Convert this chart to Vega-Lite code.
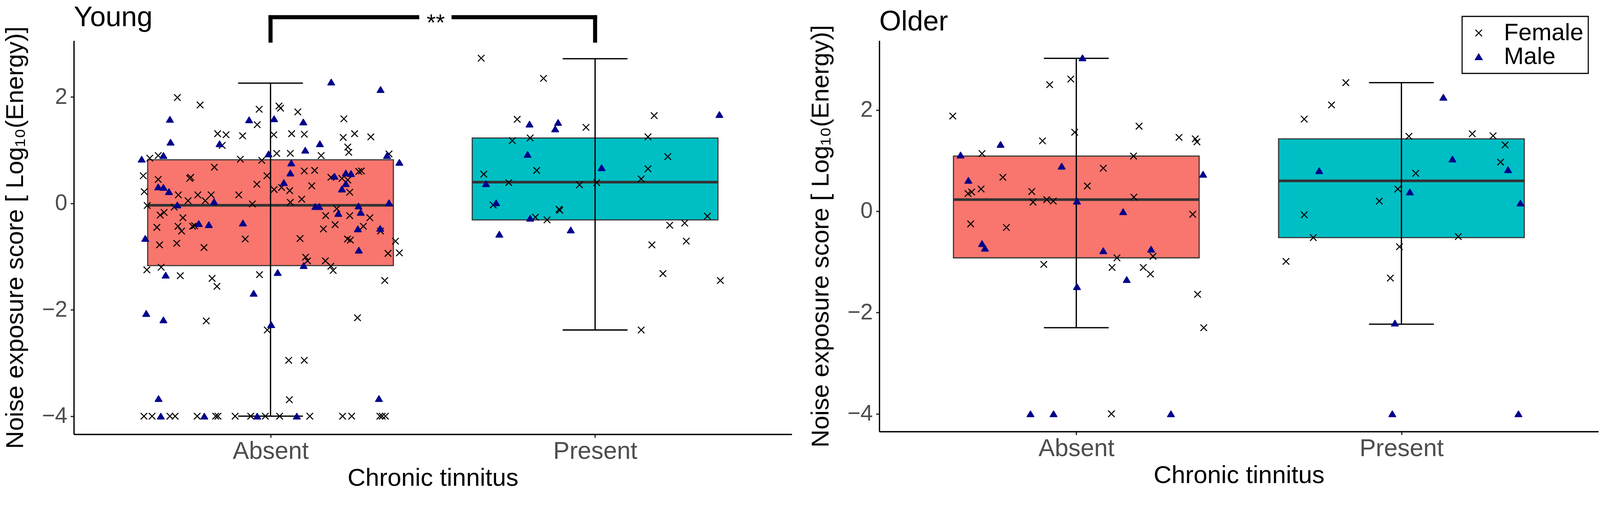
{
  "$schema": "https://vega.github.io/schema/vega-lite/v6.json",
  "background": "white",
  "padding": {"left": 7, "top": 9, "right": 9, "bottom": 3},
  "datasets": {
    "boxes": [
      {"age": "Young", "tinnitus": "Absent", "pos": 1, "q1": -1.17, "median": -0.035, "q3": 0.82, "lower": -4.0, "upper": 2.26},
      {"age": "Young", "tinnitus": "Present", "pos": 2, "q1": -0.31, "median": 0.40, "q3": 1.23, "lower": -2.38, "upper": 2.72},
      {"age": "Older", "tinnitus": "Absent", "pos": 1, "q1": -0.92, "median": 0.23, "q3": 1.09, "lower": -2.30, "upper": 3.02},
      {"age": "Older", "tinnitus": "Present", "pos": 2, "q1": -0.52, "median": 0.60, "q3": 1.43, "lower": -2.23, "upper": 2.54}
    ],
    "bracket": [
      {"x": 1, "x2": 1.452, "y": 3.5, "y2": 3.5},
      {"x": 1.564, "x2": 2, "y": 3.5, "y2": 3.5},
      {"x": 1, "x2": 1, "y": 3.06, "y2": 3.5},
      {"x": 2, "x2": 2, "y": 3.06, "y2": 3.5}
    ],
    "stars": [
      {"x": 1.509, "y": 3.5, "label": "**"}
    ],
    "points": [
      {"age": "Young", "tinnitus": "Absent", "sex": "Female", "jx": 0.713, "score": 1.99},
      {"age": "Young", "tinnitus": "Absent", "sex": "Female", "jx": 0.783, "score": 1.85},
      {"age": "Young", "tinnitus": "Absent", "sex": "Female", "jx": 0.965, "score": 1.77},
      {"age": "Young", "tinnitus": "Absent", "sex": "Female", "jx": 0.959, "score": 1.48},
      {"age": "Young", "tinnitus": "Absent", "sex": "Female", "jx": 0.837, "score": 1.31},
      {"age": "Young", "tinnitus": "Absent", "sex": "Female", "jx": 0.863, "score": 1.29},
      {"age": "Young", "tinnitus": "Absent", "sex": "Female", "jx": 0.914, "score": 1.27},
      {"age": "Young", "tinnitus": "Absent", "sex": "Female", "jx": 0.851, "score": 1.09},
      {"age": "Young", "tinnitus": "Absent", "sex": "Female", "jx": 0.628, "score": 0.85},
      {"age": "Young", "tinnitus": "Absent", "sex": "Female", "jx": 0.654, "score": 0.90},
      {"age": "Young", "tinnitus": "Absent", "sex": "Female", "jx": 0.907, "score": 0.83},
      {"age": "Young", "tinnitus": "Absent", "sex": "Female", "jx": 0.973, "score": 0.81},
      {"age": "Young", "tinnitus": "Absent", "sex": "Female", "jx": 0.827, "score": 0.68},
      {"age": "Young", "tinnitus": "Absent", "sex": "Female", "jx": 0.608, "score": 0.52},
      {"age": "Young", "tinnitus": "Absent", "sex": "Female", "jx": 0.654, "score": 0.45},
      {"age": "Young", "tinnitus": "Absent", "sex": "Female", "jx": 0.751, "score": 0.47},
      {"age": "Young", "tinnitus": "Absent", "sex": "Female", "jx": 0.754, "score": 0.49},
      {"age": "Young", "tinnitus": "Absent", "sex": "Female", "jx": 0.989, "score": 0.52},
      {"age": "Young", "tinnitus": "Absent", "sex": "Female", "jx": 0.958, "score": 0.36},
      {"age": "Young", "tinnitus": "Absent", "sex": "Female", "jx": 0.611, "score": 0.22},
      {"age": "Young", "tinnitus": "Absent", "sex": "Female", "jx": 0.716, "score": 0.16},
      {"age": "Young", "tinnitus": "Absent", "sex": "Female", "jx": 0.776, "score": 0.16},
      {"age": "Young", "tinnitus": "Absent", "sex": "Female", "jx": 0.817, "score": 0.16},
      {"age": "Young", "tinnitus": "Absent", "sex": "Female", "jx": 0.902, "score": 0.16},
      {"age": "Young", "tinnitus": "Absent", "sex": "Female", "jx": 0.746, "score": 0.05},
      {"age": "Young", "tinnitus": "Absent", "sex": "Female", "jx": 0.799, "score": 0.05},
      {"age": "Young", "tinnitus": "Absent", "sex": "Female", "jx": 0.620, "score": -0.04},
      {"age": "Young", "tinnitus": "Absent", "sex": "Female", "jx": 0.944, "score": -0.01},
      {"age": "Young", "tinnitus": "Absent", "sex": "Female", "jx": 0.703, "score": -0.07},
      {"age": "Young", "tinnitus": "Absent", "sex": "Female", "jx": 0.660, "score": -0.22},
      {"age": "Young", "tinnitus": "Absent", "sex": "Female", "jx": 0.672, "score": -0.17},
      {"age": "Young", "tinnitus": "Absent", "sex": "Female", "jx": 0.730, "score": -0.27},
      {"age": "Young", "tinnitus": "Absent", "sex": "Female", "jx": 0.650, "score": -0.45},
      {"age": "Young", "tinnitus": "Absent", "sex": "Female", "jx": 0.715, "score": -0.43},
      {"age": "Young", "tinnitus": "Absent", "sex": "Female", "jx": 0.726, "score": -0.52},
      {"age": "Young", "tinnitus": "Absent", "sex": "Female", "jx": 0.760, "score": -0.43},
      {"age": "Young", "tinnitus": "Absent", "sex": "Female", "jx": 0.766, "score": -0.42},
      {"age": "Young", "tinnitus": "Absent", "sex": "Female", "jx": 0.922, "score": -0.67},
      {"age": "Young", "tinnitus": "Absent", "sex": "Female", "jx": 0.658, "score": -0.78},
      {"age": "Young", "tinnitus": "Absent", "sex": "Female", "jx": 0.711, "score": -0.75},
      {"age": "Young", "tinnitus": "Absent", "sex": "Female", "jx": 0.795, "score": -0.83},
      {"age": "Young", "tinnitus": "Absent", "sex": "Female", "jx": 0.619, "score": -1.25},
      {"age": "Young", "tinnitus": "Absent", "sex": "Female", "jx": 0.663, "score": -1.20},
      {"age": "Young", "tinnitus": "Absent", "sex": "Female", "jx": 0.722, "score": -1.36},
      {"age": "Young", "tinnitus": "Absent", "sex": "Female", "jx": 0.966, "score": -1.34},
      {"age": "Young", "tinnitus": "Absent", "sex": "Female", "jx": 0.820, "score": -1.41},
      {"age": "Young", "tinnitus": "Absent", "sex": "Female", "jx": 0.835, "score": -1.56},
      {"age": "Young", "tinnitus": "Absent", "sex": "Female", "jx": 1.026, "score": 1.83},
      {"age": "Young", "tinnitus": "Absent", "sex": "Female", "jx": 1.031, "score": 1.79},
      {"age": "Young", "tinnitus": "Absent", "sex": "Female", "jx": 1.084, "score": 1.72},
      {"age": "Young", "tinnitus": "Absent", "sex": "Female", "jx": 1.226, "score": 1.59},
      {"age": "Young", "tinnitus": "Absent", "sex": "Female", "jx": 1.010, "score": 1.29},
      {"age": "Young", "tinnitus": "Absent", "sex": "Female", "jx": 1.065, "score": 1.31},
      {"age": "Young", "tinnitus": "Absent", "sex": "Female", "jx": 1.104, "score": 1.30},
      {"age": "Young", "tinnitus": "Absent", "sex": "Female", "jx": 1.224, "score": 1.24},
      {"age": "Young", "tinnitus": "Absent", "sex": "Female", "jx": 1.259, "score": 1.31},
      {"age": "Young", "tinnitus": "Absent", "sex": "Female", "jx": 1.309, "score": 1.25},
      {"age": "Young", "tinnitus": "Absent", "sex": "Female", "jx": 1.238, "score": 1.06},
      {"age": "Young", "tinnitus": "Absent", "sex": "Female", "jx": 1.241, "score": 0.96},
      {"age": "Young", "tinnitus": "Absent", "sex": "Female", "jx": 1.019, "score": 0.94},
      {"age": "Young", "tinnitus": "Absent", "sex": "Female", "jx": 1.061, "score": 0.94},
      {"age": "Young", "tinnitus": "Absent", "sex": "Female", "jx": 1.156, "score": 0.90},
      {"age": "Young", "tinnitus": "Absent", "sex": "Female", "jx": 1.365, "score": 0.93},
      {"age": "Young", "tinnitus": "Absent", "sex": "Female", "jx": 1.104, "score": 0.61},
      {"age": "Young", "tinnitus": "Absent", "sex": "Female", "jx": 1.136, "score": 0.62},
      {"age": "Young", "tinnitus": "Absent", "sex": "Female", "jx": 1.272, "score": 0.60},
      {"age": "Young", "tinnitus": "Absent", "sex": "Female", "jx": 1.280, "score": 0.61},
      {"age": "Young", "tinnitus": "Absent", "sex": "Female", "jx": 1.186, "score": 0.49},
      {"age": "Young", "tinnitus": "Absent", "sex": "Female", "jx": 1.220, "score": 0.47},
      {"age": "Young", "tinnitus": "Absent", "sex": "Female", "jx": 1.238, "score": 0.44},
      {"age": "Young", "tinnitus": "Absent", "sex": "Female", "jx": 1.127, "score": 0.33},
      {"age": "Young", "tinnitus": "Absent", "sex": "Female", "jx": 1.011, "score": 0.26},
      {"age": "Young", "tinnitus": "Absent", "sex": "Female", "jx": 1.034, "score": 0.30},
      {"age": "Young", "tinnitus": "Absent", "sex": "Female", "jx": 1.059, "score": 0.24},
      {"age": "Young", "tinnitus": "Absent", "sex": "Female", "jx": 1.244, "score": 0.21},
      {"age": "Young", "tinnitus": "Absent", "sex": "Female", "jx": 1.096, "score": 0.08},
      {"age": "Young", "tinnitus": "Absent", "sex": "Female", "jx": 1.061, "score": 0.02},
      {"age": "Young", "tinnitus": "Absent", "sex": "Female", "jx": 1.204, "score": -0.10},
      {"age": "Young", "tinnitus": "Absent", "sex": "Female", "jx": 1.170, "score": -0.23},
      {"age": "Young", "tinnitus": "Absent", "sex": "Female", "jx": 1.244, "score": -0.23},
      {"age": "Young", "tinnitus": "Absent", "sex": "Female", "jx": 1.306, "score": -0.27},
      {"age": "Young", "tinnitus": "Absent", "sex": "Female", "jx": 1.199, "score": -0.40},
      {"age": "Young", "tinnitus": "Absent", "sex": "Female", "jx": 1.163, "score": -0.48},
      {"age": "Young", "tinnitus": "Absent", "sex": "Female", "jx": 1.286, "score": -0.43},
      {"age": "Young", "tinnitus": "Absent", "sex": "Female", "jx": 1.339, "score": -0.52},
      {"age": "Young", "tinnitus": "Absent", "sex": "Female", "jx": 1.091, "score": -0.66},
      {"age": "Young", "tinnitus": "Absent", "sex": "Female", "jx": 1.237, "score": -0.67},
      {"age": "Young", "tinnitus": "Absent", "sex": "Female", "jx": 1.246, "score": -0.69},
      {"age": "Young", "tinnitus": "Absent", "sex": "Female", "jx": 1.385, "score": -0.71},
      {"age": "Young", "tinnitus": "Absent", "sex": "Female", "jx": 1.397, "score": -0.93},
      {"age": "Young", "tinnitus": "Absent", "sex": "Female", "jx": 1.362, "score": -0.94},
      {"age": "Young", "tinnitus": "Absent", "sex": "Female", "jx": 1.108, "score": -1.01},
      {"age": "Young", "tinnitus": "Absent", "sex": "Female", "jx": 1.114, "score": -1.08},
      {"age": "Young", "tinnitus": "Absent", "sex": "Female", "jx": 1.169, "score": -1.08},
      {"age": "Young", "tinnitus": "Absent", "sex": "Female", "jx": 1.186, "score": -1.18},
      {"age": "Young", "tinnitus": "Absent", "sex": "Female", "jx": 1.193, "score": -1.26},
      {"age": "Young", "tinnitus": "Absent", "sex": "Female", "jx": 1.352, "score": -1.45},
      {"age": "Young", "tinnitus": "Absent", "sex": "Female", "jx": 0.802, "score": -2.21},
      {"age": "Young", "tinnitus": "Absent", "sex": "Female", "jx": 0.990, "score": -2.38},
      {"age": "Young", "tinnitus": "Absent", "sex": "Female", "jx": 1.268, "score": -2.15},
      {"age": "Young", "tinnitus": "Absent", "sex": "Female", "jx": 1.056, "score": -2.95},
      {"age": "Young", "tinnitus": "Absent", "sex": "Female", "jx": 1.104, "score": -2.95},
      {"age": "Young", "tinnitus": "Absent", "sex": "Female", "jx": 1.058, "score": -3.69},
      {"age": "Young", "tinnitus": "Absent", "sex": "Female", "jx": 0.610, "score": -4.0},
      {"age": "Young", "tinnitus": "Absent", "sex": "Female", "jx": 0.635, "score": -4.0},
      {"age": "Young", "tinnitus": "Absent", "sex": "Female", "jx": 0.690, "score": -4.0},
      {"age": "Young", "tinnitus": "Absent", "sex": "Female", "jx": 0.706, "score": -4.0},
      {"age": "Young", "tinnitus": "Absent", "sex": "Female", "jx": 0.774, "score": -4.0},
      {"age": "Young", "tinnitus": "Absent", "sex": "Female", "jx": 0.831, "score": -4.0},
      {"age": "Young", "tinnitus": "Absent", "sex": "Female", "jx": 0.838, "score": -4.0},
      {"age": "Young", "tinnitus": "Absent", "sex": "Female", "jx": 0.891, "score": -4.0},
      {"age": "Young", "tinnitus": "Absent", "sex": "Female", "jx": 0.939, "score": -4.0},
      {"age": "Young", "tinnitus": "Absent", "sex": "Female", "jx": 0.984, "score": -4.0},
      {"age": "Young", "tinnitus": "Absent", "sex": "Female", "jx": 1.028, "score": -4.0},
      {"age": "Young", "tinnitus": "Absent", "sex": "Female", "jx": 1.121, "score": -4.0},
      {"age": "Young", "tinnitus": "Absent", "sex": "Female", "jx": 1.222, "score": -4.0},
      {"age": "Young", "tinnitus": "Absent", "sex": "Female", "jx": 1.250, "score": -4.0},
      {"age": "Young", "tinnitus": "Absent", "sex": "Female", "jx": 1.337, "score": -4.0},
      {"age": "Young", "tinnitus": "Absent", "sex": "Female", "jx": 1.344, "score": -4.0},
      {"age": "Young", "tinnitus": "Absent", "sex": "Female", "jx": 1.354, "score": -4.0},
      {"age": "Young", "tinnitus": "Absent", "sex": "Male", "jx": 0.690, "score": 1.58},
      {"age": "Young", "tinnitus": "Absent", "sex": "Male", "jx": 0.692, "score": 1.15},
      {"age": "Young", "tinnitus": "Absent", "sex": "Male", "jx": 0.603, "score": 0.83},
      {"age": "Young", "tinnitus": "Absent", "sex": "Male", "jx": 0.670, "score": 0.90},
      {"age": "Young", "tinnitus": "Absent", "sex": "Male", "jx": 0.934, "score": 1.57},
      {"age": "Young", "tinnitus": "Absent", "sex": "Male", "jx": 0.843, "score": 1.12},
      {"age": "Young", "tinnitus": "Absent", "sex": "Male", "jx": 0.654, "score": 0.31},
      {"age": "Young", "tinnitus": "Absent", "sex": "Male", "jx": 0.670, "score": 0.30},
      {"age": "Young", "tinnitus": "Absent", "sex": "Male", "jx": 0.687, "score": 0.22},
      {"age": "Young", "tinnitus": "Absent", "sex": "Male", "jx": 0.713, "score": -0.03},
      {"age": "Young", "tinnitus": "Absent", "sex": "Male", "jx": 0.826, "score": 0.03},
      {"age": "Young", "tinnitus": "Absent", "sex": "Male", "jx": 0.779, "score": -0.38},
      {"age": "Young", "tinnitus": "Absent", "sex": "Male", "jx": 0.810, "score": -0.40},
      {"age": "Young", "tinnitus": "Absent", "sex": "Male", "jx": 0.915, "score": -0.37},
      {"age": "Young", "tinnitus": "Absent", "sex": "Male", "jx": 0.614, "score": -0.66},
      {"age": "Young", "tinnitus": "Absent", "sex": "Male", "jx": 0.677, "score": -1.35},
      {"age": "Young", "tinnitus": "Absent", "sex": "Male", "jx": 0.948, "score": -1.69},
      {"age": "Young", "tinnitus": "Absent", "sex": "Male", "jx": 0.994, "score": 0.93},
      {"age": "Young", "tinnitus": "Absent", "sex": "Male", "jx": 1.339, "score": 2.14},
      {"age": "Young", "tinnitus": "Absent", "sex": "Male", "jx": 1.187, "score": 2.28},
      {"age": "Young", "tinnitus": "Absent", "sex": "Male", "jx": 1.011, "score": 1.59},
      {"age": "Young", "tinnitus": "Absent", "sex": "Male", "jx": 1.101, "score": 1.53},
      {"age": "Young", "tinnitus": "Absent", "sex": "Male", "jx": 1.152, "score": 1.12},
      {"age": "Young", "tinnitus": "Absent", "sex": "Male", "jx": 1.107, "score": 1.00},
      {"age": "Young", "tinnitus": "Absent", "sex": "Male", "jx": 1.359, "score": 0.90},
      {"age": "Young", "tinnitus": "Absent", "sex": "Male", "jx": 1.397, "score": 0.77},
      {"age": "Young", "tinnitus": "Absent", "sex": "Male", "jx": 1.064, "score": 0.76},
      {"age": "Young", "tinnitus": "Absent", "sex": "Male", "jx": 1.061, "score": 0.57},
      {"age": "Young", "tinnitus": "Absent", "sex": "Male", "jx": 1.197, "score": 0.51},
      {"age": "Young", "tinnitus": "Absent", "sex": "Male", "jx": 1.232, "score": 0.57},
      {"age": "Young", "tinnitus": "Absent", "sex": "Male", "jx": 1.248, "score": 0.56},
      {"age": "Young", "tinnitus": "Absent", "sex": "Male", "jx": 1.232, "score": 0.37},
      {"age": "Young", "tinnitus": "Absent", "sex": "Male", "jx": 1.220, "score": 0.27},
      {"age": "Young", "tinnitus": "Absent", "sex": "Male", "jx": 1.041, "score": 0.39},
      {"age": "Young", "tinnitus": "Absent", "sex": "Male", "jx": 1.138, "score": -0.06},
      {"age": "Young", "tinnitus": "Absent", "sex": "Male", "jx": 1.150, "score": -0.06},
      {"age": "Young", "tinnitus": "Absent", "sex": "Male", "jx": 1.271, "score": -0.05},
      {"age": "Young", "tinnitus": "Absent", "sex": "Male", "jx": 1.365, "score": 0.01},
      {"age": "Young", "tinnitus": "Absent", "sex": "Male", "jx": 1.278, "score": -0.17},
      {"age": "Young", "tinnitus": "Absent", "sex": "Male", "jx": 1.209, "score": -0.19},
      {"age": "Young", "tinnitus": "Absent", "sex": "Male", "jx": 1.269, "score": -0.48},
      {"age": "Young", "tinnitus": "Absent", "sex": "Male", "jx": 1.338, "score": -0.47},
      {"age": "Young", "tinnitus": "Absent", "sex": "Male", "jx": 1.272, "score": -0.88},
      {"age": "Young", "tinnitus": "Absent", "sex": "Male", "jx": 1.102, "score": -1.17},
      {"age": "Young", "tinnitus": "Absent", "sex": "Male", "jx": 1.022, "score": -1.30},
      {"age": "Young", "tinnitus": "Absent", "sex": "Male", "jx": 0.617, "score": -2.07},
      {"age": "Young", "tinnitus": "Absent", "sex": "Male", "jx": 0.670, "score": -2.19},
      {"age": "Young", "tinnitus": "Absent", "sex": "Male", "jx": 1.002, "score": -2.28},
      {"age": "Young", "tinnitus": "Absent", "sex": "Male", "jx": 0.655, "score": -3.67},
      {"age": "Young", "tinnitus": "Absent", "sex": "Male", "jx": 1.334, "score": -3.67},
      {"age": "Young", "tinnitus": "Absent", "sex": "Male", "jx": 0.662, "score": -4.0},
      {"age": "Young", "tinnitus": "Absent", "sex": "Male", "jx": 0.796, "score": -4.0},
      {"age": "Young", "tinnitus": "Absent", "sex": "Male", "jx": 0.959, "score": -4.0},
      {"age": "Young", "tinnitus": "Absent", "sex": "Male", "jx": 1.081, "score": -4.0},
      {"age": "Young", "tinnitus": "Present", "sex": "Female", "jx": 1.649, "score": 2.73},
      {"age": "Young", "tinnitus": "Present", "sex": "Female", "jx": 1.841, "score": 2.35},
      {"age": "Young", "tinnitus": "Present", "sex": "Female", "jx": 1.760, "score": 1.58},
      {"age": "Young", "tinnitus": "Present", "sex": "Female", "jx": 1.972, "score": 1.43},
      {"age": "Young", "tinnitus": "Present", "sex": "Female", "jx": 2.182, "score": 1.65},
      {"age": "Young", "tinnitus": "Present", "sex": "Female", "jx": 2.163, "score": 1.25},
      {"age": "Young", "tinnitus": "Present", "sex": "Female", "jx": 1.745, "score": 1.18},
      {"age": "Young", "tinnitus": "Present", "sex": "Female", "jx": 1.800, "score": 1.23},
      {"age": "Young", "tinnitus": "Present", "sex": "Female", "jx": 2.224, "score": 0.88},
      {"age": "Young", "tinnitus": "Present", "sex": "Female", "jx": 1.820, "score": 0.62},
      {"age": "Young", "tinnitus": "Present", "sex": "Female", "jx": 2.163, "score": 0.65},
      {"age": "Young", "tinnitus": "Present", "sex": "Female", "jx": 1.657, "score": 0.55},
      {"age": "Young", "tinnitus": "Present", "sex": "Female", "jx": 2.142, "score": 0.46},
      {"age": "Young", "tinnitus": "Present", "sex": "Female", "jx": 1.734, "score": 0.39},
      {"age": "Young", "tinnitus": "Present", "sex": "Female", "jx": 1.952, "score": 0.35},
      {"age": "Young", "tinnitus": "Present", "sex": "Female", "jx": 2.005, "score": 0.39},
      {"age": "Young", "tinnitus": "Present", "sex": "Female", "jx": 1.686, "score": -0.03},
      {"age": "Young", "tinnitus": "Present", "sex": "Female", "jx": 1.889, "score": -0.11},
      {"age": "Young", "tinnitus": "Present", "sex": "Female", "jx": 1.891, "score": -0.13},
      {"age": "Young", "tinnitus": "Present", "sex": "Female", "jx": 1.816, "score": -0.26},
      {"age": "Young", "tinnitus": "Present", "sex": "Female", "jx": 1.852, "score": -0.31},
      {"age": "Young", "tinnitus": "Present", "sex": "Female", "jx": 2.346, "score": -0.24},
      {"age": "Young", "tinnitus": "Present", "sex": "Female", "jx": 2.230, "score": -0.41},
      {"age": "Young", "tinnitus": "Present", "sex": "Female", "jx": 2.276, "score": -0.37},
      {"age": "Young", "tinnitus": "Present", "sex": "Female", "jx": 2.175, "score": -0.78},
      {"age": "Young", "tinnitus": "Present", "sex": "Female", "jx": 2.281, "score": -0.71},
      {"age": "Young", "tinnitus": "Present", "sex": "Female", "jx": 2.209, "score": -1.32},
      {"age": "Young", "tinnitus": "Present", "sex": "Female", "jx": 2.386, "score": -1.45},
      {"age": "Young", "tinnitus": "Present", "sex": "Female", "jx": 2.142, "score": -2.38},
      {"age": "Young", "tinnitus": "Present", "sex": "Male", "jx": 2.383, "score": 1.67},
      {"age": "Young", "tinnitus": "Present", "sex": "Male", "jx": 1.798, "score": 1.49},
      {"age": "Young", "tinnitus": "Present", "sex": "Male", "jx": 1.886, "score": 1.52},
      {"age": "Young", "tinnitus": "Present", "sex": "Male", "jx": 1.877, "score": 1.40},
      {"age": "Young", "tinnitus": "Present", "sex": "Male", "jx": 1.792, "score": 0.92},
      {"age": "Young", "tinnitus": "Present", "sex": "Male", "jx": 2.020, "score": 0.67},
      {"age": "Young", "tinnitus": "Present", "sex": "Male", "jx": 1.664, "score": 0.37},
      {"age": "Young", "tinnitus": "Present", "sex": "Male", "jx": 1.695, "score": 0.01},
      {"age": "Young", "tinnitus": "Present", "sex": "Male", "jx": 1.800, "score": -0.28},
      {"age": "Young", "tinnitus": "Present", "sex": "Male", "jx": 1.705, "score": -0.58},
      {"age": "Young", "tinnitus": "Present", "sex": "Male", "jx": 1.925, "score": -0.50},
      {"age": "Older", "tinnitus": "Absent", "sex": "Female", "jx": 0.620, "score": 1.88},
      {"age": "Older", "tinnitus": "Absent", "sex": "Female", "jx": 0.918, "score": 2.50},
      {"age": "Older", "tinnitus": "Absent", "sex": "Female", "jx": 0.983, "score": 2.61},
      {"age": "Older", "tinnitus": "Absent", "sex": "Female", "jx": 0.995, "score": 1.56},
      {"age": "Older", "tinnitus": "Absent", "sex": "Female", "jx": 0.896, "score": 1.39},
      {"age": "Older", "tinnitus": "Absent", "sex": "Female", "jx": 0.710, "score": 1.14},
      {"age": "Older", "tinnitus": "Absent", "sex": "Female", "jx": 1.193, "score": 1.68},
      {"age": "Older", "tinnitus": "Absent", "sex": "Female", "jx": 1.316, "score": 1.46},
      {"age": "Older", "tinnitus": "Absent", "sex": "Female", "jx": 1.366, "score": 1.43},
      {"age": "Older", "tinnitus": "Absent", "sex": "Female", "jx": 1.371, "score": 1.37},
      {"age": "Older", "tinnitus": "Absent", "sex": "Female", "jx": 1.176, "score": 1.09},
      {"age": "Older", "tinnitus": "Absent", "sex": "Female", "jx": 0.774, "score": 0.67},
      {"age": "Older", "tinnitus": "Absent", "sex": "Female", "jx": 1.083, "score": 0.85},
      {"age": "Older", "tinnitus": "Absent", "sex": "Female", "jx": 0.667, "score": 0.35},
      {"age": "Older", "tinnitus": "Absent", "sex": "Female", "jx": 0.678, "score": 0.38},
      {"age": "Older", "tinnitus": "Absent", "sex": "Female", "jx": 0.707, "score": 0.44},
      {"age": "Older", "tinnitus": "Absent", "sex": "Female", "jx": 0.863, "score": 0.39},
      {"age": "Older", "tinnitus": "Absent", "sex": "Female", "jx": 0.867, "score": 0.18},
      {"age": "Older", "tinnitus": "Absent", "sex": "Female", "jx": 0.909, "score": 0.23},
      {"age": "Older", "tinnitus": "Absent", "sex": "Female", "jx": 0.929, "score": 0.20},
      {"age": "Older", "tinnitus": "Absent", "sex": "Female", "jx": 1.034, "score": 0.50},
      {"age": "Older", "tinnitus": "Absent", "sex": "Female", "jx": 1.177, "score": 0.28},
      {"age": "Older", "tinnitus": "Absent", "sex": "Female", "jx": 1.358, "score": -0.06},
      {"age": "Older", "tinnitus": "Absent", "sex": "Female", "jx": 0.675, "score": -0.25},
      {"age": "Older", "tinnitus": "Absent", "sex": "Female", "jx": 0.785, "score": -0.32},
      {"age": "Older", "tinnitus": "Absent", "sex": "Female", "jx": 0.900, "score": -1.05},
      {"age": "Older", "tinnitus": "Absent", "sex": "Female", "jx": 1.125, "score": -0.92},
      {"age": "Older", "tinnitus": "Absent", "sex": "Female", "jx": 1.110, "score": -1.11},
      {"age": "Older", "tinnitus": "Absent", "sex": "Female", "jx": 1.206, "score": -1.11},
      {"age": "Older", "tinnitus": "Absent", "sex": "Female", "jx": 1.228, "score": -1.24},
      {"age": "Older", "tinnitus": "Absent", "sex": "Female", "jx": 1.236, "score": -0.89},
      {"age": "Older", "tinnitus": "Absent", "sex": "Female", "jx": 1.373, "score": -1.64},
      {"age": "Older", "tinnitus": "Absent", "sex": "Female", "jx": 1.392, "score": -2.30},
      {"age": "Older", "tinnitus": "Absent", "sex": "Female", "jx": 1.108, "score": -4.0},
      {"age": "Older", "tinnitus": "Absent", "sex": "Male", "jx": 1.019, "score": 3.03},
      {"age": "Older", "tinnitus": "Absent", "sex": "Male", "jx": 0.767, "score": 1.32},
      {"age": "Older", "tinnitus": "Absent", "sex": "Male", "jx": 0.644, "score": 1.11},
      {"age": "Older", "tinnitus": "Absent", "sex": "Male", "jx": 0.668, "score": 0.61},
      {"age": "Older", "tinnitus": "Absent", "sex": "Male", "jx": 0.955, "score": 0.89},
      {"age": "Older", "tinnitus": "Absent", "sex": "Male", "jx": 1.390, "score": 0.73},
      {"age": "Older", "tinnitus": "Absent", "sex": "Male", "jx": 1.002, "score": 0.20},
      {"age": "Older", "tinnitus": "Absent", "sex": "Male", "jx": 1.144, "score": -0.01},
      {"age": "Older", "tinnitus": "Absent", "sex": "Male", "jx": 0.710, "score": -0.64},
      {"age": "Older", "tinnitus": "Absent", "sex": "Male", "jx": 0.719, "score": -0.73},
      {"age": "Older", "tinnitus": "Absent", "sex": "Male", "jx": 1.083, "score": -0.78},
      {"age": "Older", "tinnitus": "Absent", "sex": "Male", "jx": 1.230, "score": -0.75},
      {"age": "Older", "tinnitus": "Absent", "sex": "Male", "jx": 1.155, "score": -1.35},
      {"age": "Older", "tinnitus": "Absent", "sex": "Male", "jx": 1.002, "score": -1.49},
      {"age": "Older", "tinnitus": "Absent", "sex": "Male", "jx": 0.859, "score": -4.0},
      {"age": "Older", "tinnitus": "Absent", "sex": "Male", "jx": 0.930, "score": -4.0},
      {"age": "Older", "tinnitus": "Absent", "sex": "Male", "jx": 1.291, "score": -4.0},
      {"age": "Older", "tinnitus": "Present", "sex": "Female", "jx": 1.829, "score": 2.54},
      {"age": "Older", "tinnitus": "Present", "sex": "Female", "jx": 1.785, "score": 2.10},
      {"age": "Older", "tinnitus": "Present", "sex": "Female", "jx": 1.701, "score": 1.82},
      {"age": "Older", "tinnitus": "Present", "sex": "Female", "jx": 2.023, "score": 1.48},
      {"age": "Older", "tinnitus": "Present", "sex": "Female", "jx": 2.218, "score": 1.53},
      {"age": "Older", "tinnitus": "Present", "sex": "Female", "jx": 2.282, "score": 1.49},
      {"age": "Older", "tinnitus": "Present", "sex": "Female", "jx": 2.319, "score": 1.31},
      {"age": "Older", "tinnitus": "Present", "sex": "Female", "jx": 2.305, "score": 0.97},
      {"age": "Older", "tinnitus": "Present", "sex": "Female", "jx": 2.044, "score": 0.75},
      {"age": "Older", "tinnitus": "Present", "sex": "Female", "jx": 1.989, "score": 0.44},
      {"age": "Older", "tinnitus": "Present", "sex": "Female", "jx": 1.932, "score": 0.20},
      {"age": "Older", "tinnitus": "Present", "sex": "Female", "jx": 1.701, "score": -0.07},
      {"age": "Older", "tinnitus": "Present", "sex": "Female", "jx": 1.729, "score": -0.52},
      {"age": "Older", "tinnitus": "Present", "sex": "Female", "jx": 2.175, "score": -0.50},
      {"age": "Older", "tinnitus": "Present", "sex": "Female", "jx": 1.994, "score": -0.70},
      {"age": "Older", "tinnitus": "Present", "sex": "Female", "jx": 1.645, "score": -0.99},
      {"age": "Older", "tinnitus": "Present", "sex": "Female", "jx": 1.966, "score": -1.32},
      {"age": "Older", "tinnitus": "Present", "sex": "Male", "jx": 2.129, "score": 2.25},
      {"age": "Older", "tinnitus": "Present", "sex": "Male", "jx": 2.157, "score": 1.03},
      {"age": "Older", "tinnitus": "Present", "sex": "Male", "jx": 1.747, "score": 0.80},
      {"age": "Older", "tinnitus": "Present", "sex": "Male", "jx": 2.328, "score": 0.82},
      {"age": "Older", "tinnitus": "Present", "sex": "Male", "jx": 2.026, "score": 0.38},
      {"age": "Older", "tinnitus": "Present", "sex": "Male", "jx": 2.366, "score": 0.16},
      {"age": "Older", "tinnitus": "Present", "sex": "Male", "jx": 1.980, "score": -2.21},
      {"age": "Older", "tinnitus": "Present", "sex": "Male", "jx": 1.972, "score": -4.0},
      {"age": "Older", "tinnitus": "Present", "sex": "Male", "jx": 2.360, "score": -4.0}
    ]
  },
  "hconcat": [
    {
      "title": {"text": "Young", "dy": 56},
      "width": 1838,
      "height": 1008,
      "layer": [
        {
          "data": {"name": "boxes"},
          "transform": [{"filter": "datum.age == 'Young'"}],
          "mark": {"type": "bar", "width": 629, "stroke": "#333333", "strokeWidth": 2.8},
          "encoding": {
            "x": {"field": "pos", "type": "quantitative", "scale": {"domain": [0.4, 2.6], "nice": false, "zero": false},
              "axis": {"values": [1, 2], "labelExpr": "datum.value == 1 ? 'Absent' : 'Present'", "title": "Chronic tinnitus"}},
            "y": {"field": "q1", "type": "quantitative", "scale": {"domain": [-4.34, 3.06], "nice": false, "zero": false},
              "axis": {"values": [-4, -2, 0, 2], "format": "d", "title": "Noise exposure score [ Log₁₀(Energy)]"}},
            "y2": {"field": "q3"},
            "fill": {"field": "tinnitus", "type": "nominal", "scale": {"domain": ["Absent", "Present"], "range": ["#F8766D", "#00BFC4"]}, "legend": null}
          }
        },
        {
          "data": {"name": "boxes"},
          "transform": [{"filter": "datum.age == 'Young'"}],
          "mark": {"type": "tick", "orient": "horizontal", "size": 629, "thickness": 6.6, "color": "#333333", "opacity": 1},
          "encoding": {
            "x": {"field": "pos", "type": "quantitative"},
            "y": {"field": "median", "type": "quantitative"}
          }
        },
        {
          "data": {"name": "boxes"},
          "transform": [{"filter": "datum.age == 'Young'"}],
          "mark": {"type": "rule", "color": "black", "strokeWidth": 3.3},
          "encoding": {
            "x": {"field": "pos", "type": "quantitative"},
            "y": {"field": "lower", "type": "quantitative"},
            "y2": {"field": "upper"}
          }
        },
        {
          "data": {"name": "boxes"},
          "transform": [{"filter": "datum.age == 'Young'"}],
          "mark": {"type": "tick", "orient": "horizontal", "size": 166, "thickness": 3.3, "color": "black", "opacity": 1},
          "encoding": {
            "x": {"field": "pos", "type": "quantitative"},
            "y": {"field": "lower", "type": "quantitative"}
          }
        },
        {
          "data": {"name": "boxes"},
          "transform": [{"filter": "datum.age == 'Young'"}],
          "mark": {"type": "tick", "orient": "horizontal", "size": 166, "thickness": 3.3, "color": "black", "opacity": 1},
          "encoding": {
            "x": {"field": "pos", "type": "quantitative"},
            "y": {"field": "upper", "type": "quantitative"}
          }
        },
        {
          "data": {"name": "points"},
          "transform": [{"filter": "datum.age == 'Young'"}],
          "mark": {"type": "point", "filled": true, "size": 435, "strokeWidth": 2.6, "strokeJoin": "round", "opacity": 1},
          "encoding": {
            "x": {"field": "jx", "type": "quantitative"},
            "y": {"field": "score", "type": "quantitative"},
            "shape": {"field": "sex", "type": "nominal", "scale": {"domain": ["Female", "Male"], "range": ["M-0.8,-0.8L0.8,0.8M-0.8,0.8L0.8,-0.8", "M0,-0.7L0.83,0.7L-0.83,0.7Z"]}, "legend": null},
            "color": {"field": "sex", "type": "nominal", "scale": {"domain": ["Female", "Male"], "range": ["#000000", "#00008B"]}, "legend": null},
            "stroke": {"field": "sex", "type": "nominal", "scale": {"domain": ["Female", "Male"], "range": ["#000000", "#00008B"]}, "legend": null}
          }
        },
        {
          "data": {"name": "bracket"},
          "mark": {"type": "rule", "color": "black", "strokeWidth": 10.4, "strokeCap": "square"},
          "encoding": {
            "x": {"field": "x", "type": "quantitative"},
            "x2": {"field": "x2"},
            "y": {"field": "y", "type": "quantitative"},
            "y2": {"field": "y2"}
          }
        },
        {
          "data": {"name": "stars"},
          "mark": {"type": "text", "fontSize": 60, "color": "black", "align": "center", "baseline": "alphabetic", "dy": 34},
          "encoding": {
            "x": {"field": "x", "type": "quantitative"},
            "y": {"field": "y", "type": "quantitative"},
            "text": {"field": "label"}
          }
        }
      ]
    },
    {
      "title": {"text": "Older", "dy": 56},
      "width": 1841,
      "height": 1001,
      "layer": [
        {
          "data": {"name": "boxes"},
          "transform": [{"filter": "datum.age == 'Older'"}],
          "mark": {"type": "bar", "width": 629, "stroke": "#333333", "strokeWidth": 2.8},
          "encoding": {
            "x": {"field": "pos", "type": "quantitative", "scale": {"domain": [0.4, 2.6], "nice": false, "zero": false},
              "axis": {"values": [1, 2], "labelExpr": "datum.value == 1 ? 'Absent' : 'Present'", "title": "Chronic tinnitus"}},
            "y": {"field": "q1", "type": "quantitative", "scale": {"domain": [-4.35, 3.37], "nice": false, "zero": false},
              "axis": {"values": [-4, -2, 0, 2], "format": "d", "title": "Noise exposure score [ Log₁₀(Energy)]"}},
            "y2": {"field": "q3"},
            "fill": {"field": "tinnitus", "type": "nominal", "scale": {"domain": ["Absent", "Present"], "range": ["#F8766D", "#00BFC4"]}, "legend": null}
          }
        },
        {
          "data": {"name": "boxes"},
          "transform": [{"filter": "datum.age == 'Older'"}],
          "mark": {"type": "tick", "orient": "horizontal", "size": 629, "thickness": 6.6, "color": "#333333", "opacity": 1},
          "encoding": {
            "x": {"field": "pos", "type": "quantitative"},
            "y": {"field": "median", "type": "quantitative"}
          }
        },
        {
          "data": {"name": "boxes"},
          "transform": [{"filter": "datum.age == 'Older'"}],
          "mark": {"type": "rule", "color": "black", "strokeWidth": 3.3},
          "encoding": {
            "x": {"field": "pos", "type": "quantitative"},
            "y": {"field": "lower", "type": "quantitative"},
            "y2": {"field": "upper"}
          }
        },
        {
          "data": {"name": "boxes"},
          "transform": [{"filter": "datum.age == 'Older'"}],
          "mark": {"type": "tick", "orient": "horizontal", "size": 166, "thickness": 3.3, "color": "black", "opacity": 1},
          "encoding": {
            "x": {"field": "pos", "type": "quantitative"},
            "y": {"field": "lower", "type": "quantitative"}
          }
        },
        {
          "data": {"name": "boxes"},
          "transform": [{"filter": "datum.age == 'Older'"}],
          "mark": {"type": "tick", "orient": "horizontal", "size": 166, "thickness": 3.3, "color": "black", "opacity": 1},
          "encoding": {
            "x": {"field": "pos", "type": "quantitative"},
            "y": {"field": "upper", "type": "quantitative"}
          }
        },
        {
          "data": {"name": "points"},
          "transform": [{"filter": "datum.age == 'Older'"}],
          "mark": {"type": "point", "filled": true, "size": 435, "strokeWidth": 2.6, "strokeJoin": "round", "opacity": 1},
          "encoding": {
            "x": {"field": "jx", "type": "quantitative"},
            "y": {"field": "score", "type": "quantitative"},
            "shape": {"field": "sex", "type": "nominal", "scale": {"domain": ["Female", "Male"], "range": ["M-0.8,-0.8L0.8,0.8M-0.8,0.8L0.8,-0.8", "M0,-0.7L0.83,0.7L-0.83,0.7Z"]},
              "legend": {"title": null, "orient": "none", "legendX": 1492, "legendY": -62, "padding": 12, "labelOffset": 34, "rowPadding": -3, "strokeColor": "black", "fillColor": "white", "symbolSize": 435, "symbolStrokeWidth": 2.6, "labelFontSize": 61, "labelColor": "black", "labelFont": "Liberation Sans", "labelLimit": 500}},
            "color": {"field": "sex", "type": "nominal", "scale": {"domain": ["Female", "Male"], "range": ["#000000", "#00008B"]},
              "legend": {"title": null, "orient": "none", "legendX": 1492, "legendY": -62, "padding": 12, "labelOffset": 34, "rowPadding": -3, "strokeColor": "black", "fillColor": "white", "symbolSize": 435, "symbolStrokeWidth": 2.6, "labelFontSize": 61, "labelColor": "black", "labelFont": "Liberation Sans", "labelLimit": 500}},
            "stroke": {"field": "sex", "type": "nominal", "scale": {"domain": ["Female", "Male"], "range": ["#000000", "#00008B"]},
              "legend": {"title": null, "orient": "none", "legendX": 1492, "legendY": -62, "padding": 12, "labelOffset": 34, "rowPadding": -3, "strokeColor": "black", "fillColor": "white", "symbolSize": 435, "symbolStrokeWidth": 2.6, "labelFontSize": 61, "labelColor": "black", "labelFont": "Liberation Sans", "labelLimit": 500}}
          }
        }
      ]
    }
  ],
  "spacing": 42,
  "resolve": {
    "scale": {"color": "independent", "shape": "independent", "stroke": "independent", "fill": "independent"},
    "legend": {"color": "independent", "shape": "independent", "stroke": "independent", "fill": "independent"}
  },
  "config": {
    "view": {"stroke": null},
    "font": "Liberation Sans",
    "title": {"font": "Liberation Sans", "fontSize": 72, "fontWeight": "normal", "color": "black", "anchor": "start", "frame": "group"},
    "legend": {"strokeWidth": 2.8},
    "axis": {
      "grid": false,
      "domainColor": "black",
      "domainWidth": 3.3,
      "tickColor": "#333333",
      "tickWidth": 3.3,
      "tickSize": 8.5,
      "labelColor": "#4D4D4D",
      "labelFont": "Liberation Sans",
      "labelLimit": 500,
      "titleFont": "Liberation Sans",
      "titleColor": "black",
      "titleFontWeight": "normal",
      "titleFontSize": 63.5
    },
    "axisX": {"labelFontSize": 62.5, "labelPadding": 4.7, "titlePadding": 6.6},
    "axisY": {"labelFontSize": 57, "labelPadding": 8.5, "titlePadding": 36}
  }
}
